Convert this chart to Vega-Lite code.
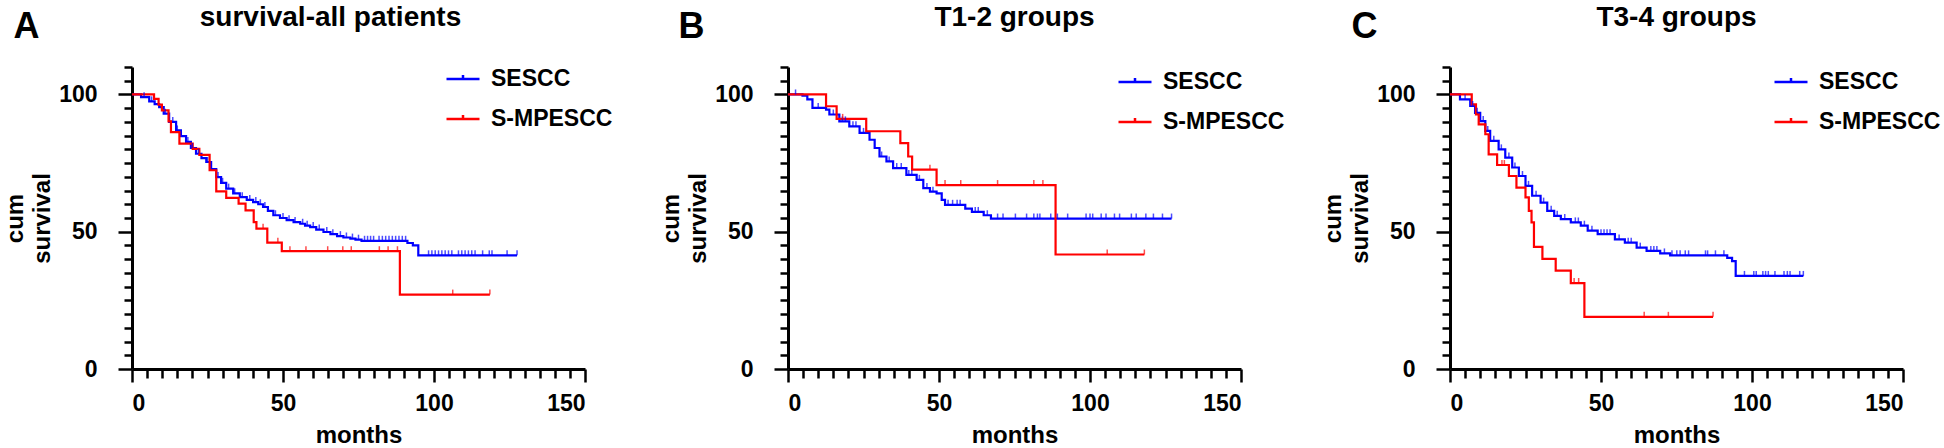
{
  "$schema": "https://vega.github.io/schema/vega-lite/v6.json",
  "padding": {"left": 3, "top": 3, "right": 0, "bottom": 0},
  "background": "white",
  "config": {
    "view": {"stroke": null},
    "font": "Liberation Sans",
    "axis": {"grid": false, "domainColor": "black", "tickColor": "black", "labelColor": "black", "titleColor": "black", "labelFont": "Liberation Sans", "titleFont": "Liberation Sans", "labelFontWeight": "bold", "titleFontWeight": "bold"},
    "legend": {"labelFont": "Liberation Sans", "labelFontWeight": "bold", "labelColor": "black"}
  },
  "datasets": {
    "curvesA": [
      {"group": "SESCC", "t": 0, "s": 100}, {"group": "SESCC", "t": 3, "s": 99}, {"group": "SESCC", "t": 5.7, "s": 97.5}, {"group": "SESCC", "t": 7.5, "s": 96.5}, {"group": "SESCC", "t": 9, "s": 95.4}, {"group": "SESCC", "t": 10.5, "s": 93}, {"group": "SESCC", "t": 12.3, "s": 90}, {"group": "SESCC", "t": 14.6, "s": 86.9}, {"group": "SESCC", "t": 16.2, "s": 84.8}, {"group": "SESCC", "t": 17.9, "s": 82.7}, {"group": "SESCC", "t": 19.5, "s": 80.5}, {"group": "SESCC", "t": 21.2, "s": 78.4}, {"group": "SESCC", "t": 23, "s": 76.8}, {"group": "SESCC", "t": 24.6, "s": 75.4}, {"group": "SESCC", "t": 26.2, "s": 72.8}, {"group": "SESCC", "t": 27.9, "s": 69.9}, {"group": "SESCC", "t": 29.5, "s": 67.8}, {"group": "SESCC", "t": 31.2, "s": 65.7}, {"group": "SESCC", "t": 33.5, "s": 64}, {"group": "SESCC", "t": 35.7, "s": 62.6}, {"group": "SESCC", "t": 38, "s": 61.6}, {"group": "SESCC", "t": 40.1, "s": 60.8}, {"group": "SESCC", "t": 41.8, "s": 60}, {"group": "SESCC", "t": 43.4, "s": 59}, {"group": "SESCC", "t": 45, "s": 57.6}, {"group": "SESCC", "t": 46.8, "s": 56}, {"group": "SESCC", "t": 49, "s": 55}, {"group": "SESCC", "t": 51.2, "s": 54.2}, {"group": "SESCC", "t": 53.5, "s": 53.5}, {"group": "SESCC", "t": 55.7, "s": 52.9}, {"group": "SESCC", "t": 57.3, "s": 52.2}, {"group": "SESCC", "t": 59, "s": 51.7}, {"group": "SESCC", "t": 61, "s": 50.8}, {"group": "SESCC", "t": 63.4, "s": 49.9}, {"group": "SESCC", "t": 65.7, "s": 49.1}, {"group": "SESCC", "t": 67.9, "s": 48.4}, {"group": "SESCC", "t": 70, "s": 47.9}, {"group": "SESCC", "t": 72.3, "s": 47.5}, {"group": "SESCC", "t": 74, "s": 47.1}, {"group": "SESCC", "t": 76, "s": 46.7}, {"group": "SESCC", "t": 91.2, "s": 45.9}, {"group": "SESCC", "t": 93, "s": 45}, {"group": "SESCC", "t": 94.8, "s": 41.4}, {"group": "SESCC", "t": 127.5, "s": 41.4},
      {"group": "S-MPESCC", "t": 0, "s": 100}, {"group": "S-MPESCC", "t": 7.3, "s": 98.4}, {"group": "S-MPESCC", "t": 8.8, "s": 96.3}, {"group": "S-MPESCC", "t": 9.9, "s": 94.2}, {"group": "S-MPESCC", "t": 12.1, "s": 90.2}, {"group": "S-MPESCC", "t": 12.9, "s": 86.3}, {"group": "S-MPESCC", "t": 15.7, "s": 82.1}, {"group": "S-MPESCC", "t": 20.1, "s": 80.2}, {"group": "S-MPESCC", "t": 22.3, "s": 78}, {"group": "S-MPESCC", "t": 25.7, "s": 72.4}, {"group": "S-MPESCC", "t": 27.9, "s": 64.7}, {"group": "S-MPESCC", "t": 31.2, "s": 62.3}, {"group": "S-MPESCC", "t": 35.3, "s": 60.2}, {"group": "S-MPESCC", "t": 37.6, "s": 57.8}, {"group": "S-MPESCC", "t": 40.3, "s": 53.5}, {"group": "S-MPESCC", "t": 41.2, "s": 51.1}, {"group": "S-MPESCC", "t": 44.8, "s": 46}, {"group": "S-MPESCC", "t": 49.6, "s": 42.9}, {"group": "S-MPESCC", "t": 88.7, "s": 27.1}, {"group": "S-MPESCC", "t": 118.5, "s": 27.1}
    ],
    "censA": [
      {"group": "SESCC", "t": 4, "s": 99}, {"group": "SESCC", "t": 6.5, "s": 97.5}, {"group": "SESCC", "t": 11, "s": 93}, {"group": "SESCC", "t": 13.5, "s": 90}, {"group": "SESCC", "t": 15, "s": 86.9}, {"group": "SESCC", "t": 18.5, "s": 82.7}, {"group": "SESCC", "t": 20, "s": 80.5}, {"group": "SESCC", "t": 22, "s": 78.4}, {"group": "SESCC", "t": 25, "s": 75.4}, {"group": "SESCC", "t": 28.5, "s": 69.9}, {"group": "SESCC", "t": 30, "s": 67.8}, {"group": "SESCC", "t": 32, "s": 65.7}, {"group": "SESCC", "t": 34, "s": 64}, {"group": "SESCC", "t": 36.5, "s": 62.6}, {"group": "SESCC", "t": 39, "s": 61.6}, {"group": "SESCC", "t": 41, "s": 60.8}, {"group": "SESCC", "t": 42.5, "s": 60}, {"group": "SESCC", "t": 44, "s": 59}, {"group": "SESCC", "t": 47.5, "s": 56}, {"group": "SESCC", "t": 50, "s": 55}, {"group": "SESCC", "t": 52, "s": 54.2}, {"group": "SESCC", "t": 54, "s": 53.5}, {"group": "SESCC", "t": 56.5, "s": 52.9}, {"group": "SESCC", "t": 58, "s": 52.2}, {"group": "SESCC", "t": 60, "s": 51.7}, {"group": "SESCC", "t": 62, "s": 50.8}, {"group": "SESCC", "t": 64.5, "s": 49.9}, {"group": "SESCC", "t": 66.5, "s": 49.1}, {"group": "SESCC", "t": 69, "s": 48.4}, {"group": "SESCC", "t": 71, "s": 47.9}, {"group": "SESCC", "t": 73, "s": 47.5}, {"group": "SESCC", "t": 75, "s": 47.1}, {"group": "SESCC", "t": 77, "s": 46.7}, {"group": "SESCC", "t": 78, "s": 46.7}, {"group": "SESCC", "t": 79, "s": 46.7}, {"group": "SESCC", "t": 80, "s": 46.7}, {"group": "SESCC", "t": 81.8, "s": 46.7}, {"group": "SESCC", "t": 82.9, "s": 46.7}, {"group": "SESCC", "t": 84, "s": 46.7}, {"group": "SESCC", "t": 85.1, "s": 46.7}, {"group": "SESCC", "t": 86.2, "s": 46.7}, {"group": "SESCC", "t": 87.3, "s": 46.7}, {"group": "SESCC", "t": 88.4, "s": 46.7}, {"group": "SESCC", "t": 89.5, "s": 46.7}, {"group": "SESCC", "t": 90.6, "s": 46.7}, {"group": "SESCC", "t": 98.2, "s": 41.4}, {"group": "SESCC", "t": 99.3, "s": 41.4}, {"group": "SESCC", "t": 100.4, "s": 41.4}, {"group": "SESCC", "t": 101.5, "s": 41.4}, {"group": "SESCC", "t": 102.6, "s": 41.4}, {"group": "SESCC", "t": 103.7, "s": 41.4}, {"group": "SESCC", "t": 104.8, "s": 41.4}, {"group": "SESCC", "t": 105.9, "s": 41.4}, {"group": "SESCC", "t": 108.1, "s": 41.4}, {"group": "SESCC", "t": 109.2, "s": 41.4}, {"group": "SESCC", "t": 110.3, "s": 41.4}, {"group": "SESCC", "t": 111.4, "s": 41.4}, {"group": "SESCC", "t": 112.5, "s": 41.4}, {"group": "SESCC", "t": 113.6, "s": 41.4}, {"group": "SESCC", "t": 116.1, "s": 41.4}, {"group": "SESCC", "t": 118.3, "s": 41.4}, {"group": "SESCC", "t": 119.2, "s": 41.4}, {"group": "SESCC", "t": 124.2, "s": 41.4}, {"group": "SESCC", "t": 127.5, "s": 41.4},
      {"group": "S-MPESCC", "t": 43.4, "s": 51.1}, {"group": "S-MPESCC", "t": 48.3, "s": 46}, {"group": "S-MPESCC", "t": 52.3, "s": 42.9}, {"group": "S-MPESCC", "t": 57.6, "s": 42.9}, {"group": "S-MPESCC", "t": 64.8, "s": 42.9}, {"group": "S-MPESCC", "t": 69.8, "s": 42.9}, {"group": "S-MPESCC", "t": 72.6, "s": 42.9}, {"group": "S-MPESCC", "t": 81.9, "s": 42.9}, {"group": "S-MPESCC", "t": 84.8, "s": 42.9}, {"group": "S-MPESCC", "t": 87.9, "s": 42.9}, {"group": "S-MPESCC", "t": 106.2, "s": 27.1}, {"group": "S-MPESCC", "t": 118.5, "s": 27.1}
    ],
    "curvesB": [
      {"group": "SESCC", "t": 0, "s": 100}, {"group": "SESCC", "t": 4.8, "s": 99.6}, {"group": "SESCC", "t": 6.4, "s": 98.2}, {"group": "SESCC", "t": 8.1, "s": 95.1}, {"group": "SESCC", "t": 12.6, "s": 94.5}, {"group": "SESCC", "t": 13.7, "s": 92.7}, {"group": "SESCC", "t": 17, "s": 90.2}, {"group": "SESCC", "t": 20.3, "s": 88.4}, {"group": "SESCC", "t": 23.7, "s": 86}, {"group": "SESCC", "t": 27, "s": 83.5}, {"group": "SESCC", "t": 28.7, "s": 80.5}, {"group": "SESCC", "t": 30.3, "s": 77.4}, {"group": "SESCC", "t": 32.6, "s": 75.6}, {"group": "SESCC", "t": 34.8, "s": 73.2}, {"group": "SESCC", "t": 39.2, "s": 70.7}, {"group": "SESCC", "t": 42.6, "s": 68.9}, {"group": "SESCC", "t": 44.8, "s": 65.9}, {"group": "SESCC", "t": 47, "s": 64.6}, {"group": "SESCC", "t": 49.2, "s": 64}, {"group": "SESCC", "t": 50.9, "s": 61.6}, {"group": "SESCC", "t": 52, "s": 59.8}, {"group": "SESCC", "t": 58.7, "s": 58.4}, {"group": "SESCC", "t": 60.9, "s": 57.2}, {"group": "SESCC", "t": 64.8, "s": 56}, {"group": "SESCC", "t": 67.2, "s": 54.8}, {"group": "SESCC", "t": 127, "s": 54.8},
      {"group": "S-MPESCC", "t": 0, "s": 100}, {"group": "S-MPESCC", "t": 12.6, "s": 95.7}, {"group": "S-MPESCC", "t": 16.1, "s": 91.1}, {"group": "S-MPESCC", "t": 25.9, "s": 86.6}, {"group": "S-MPESCC", "t": 37.2, "s": 82.3}, {"group": "S-MPESCC", "t": 39.8, "s": 77.4}, {"group": "S-MPESCC", "t": 41.1, "s": 72.6}, {"group": "S-MPESCC", "t": 49.2, "s": 67}, {"group": "S-MPESCC", "t": 88.6, "s": 41.7}, {"group": "S-MPESCC", "t": 118, "s": 41.7}
    ],
    "censB": [
      {"group": "SESCC", "t": 2.5, "s": 100}, {"group": "SESCC", "t": 10, "s": 95.1}, {"group": "SESCC", "t": 15, "s": 92.7}, {"group": "SESCC", "t": 18, "s": 90.2}, {"group": "SESCC", "t": 19, "s": 90.2}, {"group": "SESCC", "t": 21.5, "s": 88.4}, {"group": "SESCC", "t": 22.5, "s": 88.4}, {"group": "SESCC", "t": 25, "s": 86}, {"group": "SESCC", "t": 31, "s": 77.4}, {"group": "SESCC", "t": 33.5, "s": 75.6}, {"group": "SESCC", "t": 36, "s": 73.2}, {"group": "SESCC", "t": 37.5, "s": 73.2}, {"group": "SESCC", "t": 40, "s": 70.7}, {"group": "SESCC", "t": 41, "s": 70.7}, {"group": "SESCC", "t": 43.5, "s": 68.9}, {"group": "SESCC", "t": 46, "s": 65.9}, {"group": "SESCC", "t": 48, "s": 64.6}, {"group": "SESCC", "t": 53, "s": 59.8}, {"group": "SESCC", "t": 54.5, "s": 59.8}, {"group": "SESCC", "t": 56, "s": 59.8}, {"group": "SESCC", "t": 57, "s": 59.8}, {"group": "SESCC", "t": 62, "s": 57.2}, {"group": "SESCC", "t": 63, "s": 57.2}, {"group": "SESCC", "t": 66, "s": 56}, {"group": "SESCC", "t": 69.4, "s": 54.8}, {"group": "SESCC", "t": 71.2, "s": 54.8}, {"group": "SESCC", "t": 75.3, "s": 54.8}, {"group": "SESCC", "t": 79, "s": 54.8}, {"group": "SESCC", "t": 81.4, "s": 54.8}, {"group": "SESCC", "t": 82.6, "s": 54.8}, {"group": "SESCC", "t": 83.4, "s": 54.8}, {"group": "SESCC", "t": 87, "s": 54.8}, {"group": "SESCC", "t": 89.2, "s": 54.8}, {"group": "SESCC", "t": 92.6, "s": 54.8}, {"group": "SESCC", "t": 98.7, "s": 54.8}, {"group": "SESCC", "t": 100, "s": 54.8}, {"group": "SESCC", "t": 100.9, "s": 54.8}, {"group": "SESCC", "t": 103.7, "s": 54.8}, {"group": "SESCC", "t": 105.3, "s": 54.8}, {"group": "SESCC", "t": 108.1, "s": 54.8}, {"group": "SESCC", "t": 109.8, "s": 54.8}, {"group": "SESCC", "t": 113.7, "s": 54.8}, {"group": "SESCC", "t": 115.3, "s": 54.8}, {"group": "SESCC", "t": 118.5, "s": 54.8}, {"group": "SESCC", "t": 121, "s": 54.8}, {"group": "SESCC", "t": 124, "s": 54.8}, {"group": "SESCC", "t": 127, "s": 54.8},
      {"group": "S-MPESCC", "t": 18.1, "s": 91.1}, {"group": "S-MPESCC", "t": 47, "s": 72.6}, {"group": "S-MPESCC", "t": 52, "s": 67}, {"group": "S-MPESCC", "t": 57.2, "s": 67}, {"group": "S-MPESCC", "t": 69.4, "s": 67}, {"group": "S-MPESCC", "t": 81.4, "s": 67}, {"group": "S-MPESCC", "t": 84.4, "s": 67}, {"group": "S-MPESCC", "t": 105.7, "s": 41.7}, {"group": "S-MPESCC", "t": 118, "s": 41.7}
    ],
    "curvesC": [
      {"group": "SESCC", "t": 0, "s": 100}, {"group": "SESCC", "t": 3.3, "s": 98.2}, {"group": "SESCC", "t": 6.7, "s": 95.8}, {"group": "SESCC", "t": 8.3, "s": 93.3}, {"group": "SESCC", "t": 10, "s": 90.3}, {"group": "SESCC", "t": 11.7, "s": 86.7}, {"group": "SESCC", "t": 13.3, "s": 83.1}, {"group": "SESCC", "t": 16.1, "s": 80}, {"group": "SESCC", "t": 18.3, "s": 77}, {"group": "SESCC", "t": 20.6, "s": 73.4}, {"group": "SESCC", "t": 22.8, "s": 70.3}, {"group": "SESCC", "t": 25, "s": 66.7}, {"group": "SESCC", "t": 27.2, "s": 63.1}, {"group": "SESCC", "t": 30, "s": 60.6}, {"group": "SESCC", "t": 32.2, "s": 57.6}, {"group": "SESCC", "t": 34.5, "s": 55.8}, {"group": "SESCC", "t": 36.7, "s": 54.6}, {"group": "SESCC", "t": 40, "s": 53.4}, {"group": "SESCC", "t": 43.3, "s": 52.2}, {"group": "SESCC", "t": 45.6, "s": 50.4}, {"group": "SESCC", "t": 48.9, "s": 49.1}, {"group": "SESCC", "t": 54.6, "s": 47.2}, {"group": "SESCC", "t": 57.9, "s": 46}, {"group": "SESCC", "t": 61.8, "s": 44.2}, {"group": "SESCC", "t": 65.1, "s": 43}, {"group": "SESCC", "t": 69.6, "s": 42.1}, {"group": "SESCC", "t": 72.9, "s": 41.4}, {"group": "SESCC", "t": 91.8, "s": 40.5}, {"group": "SESCC", "t": 93.4, "s": 39.3}, {"group": "SESCC", "t": 94.6, "s": 33.9}, {"group": "SESCC", "t": 117, "s": 33.9},
      {"group": "S-MPESCC", "t": 0, "s": 100}, {"group": "S-MPESCC", "t": 7.2, "s": 96.4}, {"group": "S-MPESCC", "t": 8.6, "s": 92.7}, {"group": "S-MPESCC", "t": 9.5, "s": 89.1}, {"group": "S-MPESCC", "t": 11.7, "s": 85.5}, {"group": "S-MPESCC", "t": 12.8, "s": 78.2}, {"group": "S-MPESCC", "t": 15.6, "s": 74.3}, {"group": "S-MPESCC", "t": 19.5, "s": 70.3}, {"group": "S-MPESCC", "t": 22, "s": 66.1}, {"group": "S-MPESCC", "t": 25, "s": 62.5}, {"group": "S-MPESCC", "t": 26.1, "s": 57.6}, {"group": "S-MPESCC", "t": 27, "s": 53.4}, {"group": "S-MPESCC", "t": 27.8, "s": 44.5}, {"group": "S-MPESCC", "t": 30.6, "s": 40.1}, {"group": "S-MPESCC", "t": 35, "s": 35.8}, {"group": "S-MPESCC", "t": 40, "s": 31.3}, {"group": "S-MPESCC", "t": 44.5, "s": 19}, {"group": "S-MPESCC", "t": 87.1, "s": 19}
    ],
    "censC": [
      {"group": "SESCC", "t": 5, "s": 98.2}, {"group": "SESCC", "t": 7.5, "s": 95.8}, {"group": "SESCC", "t": 9, "s": 93.3}, {"group": "SESCC", "t": 11, "s": 90.3}, {"group": "SESCC", "t": 12.5, "s": 86.7}, {"group": "SESCC", "t": 14.5, "s": 83.1}, {"group": "SESCC", "t": 17, "s": 80}, {"group": "SESCC", "t": 19.5, "s": 77}, {"group": "SESCC", "t": 21.5, "s": 73.4}, {"group": "SESCC", "t": 24, "s": 70.3}, {"group": "SESCC", "t": 26, "s": 66.7}, {"group": "SESCC", "t": 28.5, "s": 63.1}, {"group": "SESCC", "t": 31, "s": 60.6}, {"group": "SESCC", "t": 33.5, "s": 57.6}, {"group": "SESCC", "t": 35.5, "s": 55.8}, {"group": "SESCC", "t": 38, "s": 54.6}, {"group": "SESCC", "t": 41.5, "s": 53.4}, {"group": "SESCC", "t": 42.5, "s": 53.4}, {"group": "SESCC", "t": 44.5, "s": 52.2}, {"group": "SESCC", "t": 47, "s": 50.4}, {"group": "SESCC", "t": 50, "s": 49.1}, {"group": "SESCC", "t": 51, "s": 49.1}, {"group": "SESCC", "t": 52, "s": 49.1}, {"group": "SESCC", "t": 53, "s": 49.1}, {"group": "SESCC", "t": 56, "s": 47.2}, {"group": "SESCC", "t": 59, "s": 46}, {"group": "SESCC", "t": 60, "s": 46}, {"group": "SESCC", "t": 63, "s": 44.2}, {"group": "SESCC", "t": 66.5, "s": 43}, {"group": "SESCC", "t": 67.5, "s": 43}, {"group": "SESCC", "t": 68.5, "s": 43}, {"group": "SESCC", "t": 71, "s": 42.1}, {"group": "SESCC", "t": 73.5, "s": 41.4}, {"group": "SESCC", "t": 75.1, "s": 41.4}, {"group": "SESCC", "t": 76.2, "s": 41.4}, {"group": "SESCC", "t": 77.9, "s": 41.4}, {"group": "SESCC", "t": 79, "s": 41.4}, {"group": "SESCC", "t": 84.6, "s": 41.4}, {"group": "SESCC", "t": 85.3, "s": 41.4}, {"group": "SESCC", "t": 87.9, "s": 41.4}, {"group": "SESCC", "t": 90.7, "s": 41.4}, {"group": "SESCC", "t": 97.5, "s": 33.9}, {"group": "SESCC", "t": 100.6, "s": 33.9}, {"group": "SESCC", "t": 101.4, "s": 33.9}, {"group": "SESCC", "t": 103.6, "s": 33.9}, {"group": "SESCC", "t": 104.5, "s": 33.9}, {"group": "SESCC", "t": 105.4, "s": 33.9}, {"group": "SESCC", "t": 107.6, "s": 33.9}, {"group": "SESCC", "t": 110.6, "s": 33.9}, {"group": "SESCC", "t": 111.7, "s": 33.9}, {"group": "SESCC", "t": 112.6, "s": 33.9}, {"group": "SESCC", "t": 115.8, "s": 33.9}, {"group": "SESCC", "t": 117, "s": 33.9},
      {"group": "S-MPESCC", "t": 17.2, "s": 74.3}, {"group": "S-MPESCC", "t": 18, "s": 74.3}, {"group": "S-MPESCC", "t": 41.1, "s": 31.3}, {"group": "S-MPESCC", "t": 42.6, "s": 31.3}, {"group": "S-MPESCC", "t": 64.3, "s": 19}, {"group": "S-MPESCC", "t": 72.3, "s": 19}, {"group": "S-MPESCC", "t": 87.1, "s": 19}
    ]
  },
  "hconcat": [
    {
      "width": 453, "height": 302,
      "resolve": {"axis": {"x": "independent", "y": "independent"}},
      "layer": [
        {
          "data": {"name": "curvesA"},
          "mark": {"type": "line", "interpolate": "step-after", "strokeWidth": 2.2},
          "encoding": {
            "x": {"field": "t", "type": "quantitative", "scale": {"domain": [0, 150], "nice": false},
              "axis": {"values": [0,5,10,15,20,25,30,35,40,45,50,55,60,65,70,75,80,85,90,95,100,105,110,115,120,125,130,135,140,145,150], "labelExpr": "datum.value % 50 === 0 ? datum.label : ''", "labelOverlap": false, "tickSize": {"condition": {"test": "datum.value % 50 === 0", "value": 13}, "value": 9}, "tickWidth": 2.5, "domainWidth": 3, "labelFontSize": 23, "labelPadding": 10, "title": "months", "titleFontSize": 24, "titlePadding": 8}},
            "y": {"field": "s", "type": "quantitative", "scale": {"domain": [0, 110], "nice": false},
              "axis": {"orient": "left", "values": [0,5,10,15,20,25,30,35,40,45,50,55,60,65,70,75,80,85,90,95,100,105,110], "labelExpr": "datum.value % 50 === 0 ? datum.label : ''", "labelOverlap": false, "tickSize": {"condition": {"test": "datum.value % 50 === 0", "value": 14}, "value": 8}, "tickWidth": 2.5, "domainWidth": 3, "labelFontSize": 23, "labelPadding": 21, "title": ["cum", "survival"], "titleFontSize": 24, "titleLineHeight": 27, "titlePadding": 4}},
            "color": {"field": "group", "type": "nominal", "scale": {"domain": ["SESCC", "S-MPESCC"], "range": ["#0000ff", "#ff0000"]},
              "legend": {"orient": "none", "legendX": 313, "legendY": -6, "title": null, "labelFontSize": 23, "symbolType": "M-1,0H1M0,0V-0.25", "symbolSize": 1089, "symbolStrokeWidth": 2.5, "labelOffset": 10, "rowPadding": 10, "padding": 0}}
          }
        },
        {
          "data": {"name": "censA"},
          "mark": {"type": "tick", "orient": "vertical", "size": 5, "thickness": 1.5, "yOffset": -2.5},
          "encoding": {
            "x": {"field": "t", "type": "quantitative", "scale": {"domain": [0, 150], "nice": false}, "axis": {"orient": "top", "labels": false, "ticks": false, "domain": false, "title": "survival-all patients", "titleFontSize": 28, "titleX": 198, "titleY": -42, "titleBaseline": "alphabetic", "titleAlign": "center"}},
            "y": {"field": "s", "type": "quantitative", "scale": {"domain": [0, 110], "nice": false}, "axis": {"orient": "right", "labels": false, "ticks": false, "domain": false, "title": "A", "titleFontSize": 36, "titleAngle": 0, "titleX": -572, "titleY": -30, "titleBaseline": "alphabetic", "titleAlign": "left"}},
            "color": {"field": "group", "type": "nominal", "scale": {"domain": ["SESCC", "S-MPESCC"], "range": ["#0000ff", "#ff0000"]}, "legend": null}
          }
        }
      ]
    },
    {
      "spacing": 209,
      "bounds": "flush",
      "hconcat": [
        {
          "width": 453, "height": 302,
          "resolve": {"axis": {"x": "independent", "y": "independent"}},
          "layer": [
            {
              "data": {"name": "curvesB"},
              "mark": {"type": "line", "interpolate": "step-after", "strokeWidth": 2.2},
              "encoding": {
                "x": {"field": "t", "type": "quantitative", "scale": {"domain": [0, 150], "nice": false},
                  "axis": {"values": [0,5,10,15,20,25,30,35,40,45,50,55,60,65,70,75,80,85,90,95,100,105,110,115,120,125,130,135,140,145,150], "labelExpr": "datum.value % 50 === 0 ? datum.label : ''", "labelOverlap": false, "tickSize": {"condition": {"test": "datum.value % 50 === 0", "value": 13}, "value": 9}, "tickWidth": 2.5, "domainWidth": 3, "labelFontSize": 23, "labelPadding": 10, "title": "months", "titleFontSize": 24, "titlePadding": 8}},
                "y": {"field": "s", "type": "quantitative", "scale": {"domain": [0, 110], "nice": false},
                  "axis": {"orient": "left", "values": [0,5,10,15,20,25,30,35,40,45,50,55,60,65,70,75,80,85,90,95,100,105,110], "labelExpr": "datum.value % 50 === 0 ? datum.label : ''", "labelOverlap": false, "tickSize": {"condition": {"test": "datum.value % 50 === 0", "value": 14}, "value": 8}, "tickWidth": 2.5, "domainWidth": 3, "labelFontSize": 23, "labelPadding": 21, "title": ["cum", "survival"], "titleFontSize": 24, "titleLineHeight": 27, "titlePadding": 4}},
                "color": {"field": "group", "type": "nominal", "scale": {"domain": ["SESCC", "S-MPESCC"], "range": ["#0000ff", "#ff0000"]},
                  "legend": {"orient": "none", "legendX": 329, "legendY": -3, "title": null, "labelFontSize": 23, "symbolType": "M-1,0H1M0,0V-0.25", "symbolSize": 1089, "symbolStrokeWidth": 2.5, "labelOffset": 10, "rowPadding": 10, "padding": 0}}
              }
            },
            {
              "data": {"name": "censB"},
              "mark": {"type": "tick", "orient": "vertical", "size": 5, "thickness": 1.5, "yOffset": -2.5},
              "encoding": {
                "x": {"field": "t", "type": "quantitative", "scale": {"domain": [0, 150], "nice": false}, "axis": {"orient": "top", "labels": false, "ticks": false, "domain": false, "title": "T1-2 groups", "titleFontSize": 28, "titleX": 226, "titleY": -42, "titleBaseline": "alphabetic", "titleAlign": "center"}},
                "y": {"field": "s", "type": "quantitative", "scale": {"domain": [0, 110], "nice": false}, "axis": {"orient": "right", "labels": false, "ticks": false, "domain": false, "title": "B", "titleFontSize": 36, "titleAngle": 0, "titleX": -563, "titleY": -30, "titleBaseline": "alphabetic", "titleAlign": "left"}},
                "color": {"field": "group", "type": "nominal", "scale": {"domain": ["SESCC", "S-MPESCC"], "range": ["#0000ff", "#ff0000"]}, "legend": null}
              }
            }
          ]
        },
        {
          "width": 453, "height": 302,
          "resolve": {"axis": {"x": "independent", "y": "independent"}},
          "layer": [
            {
              "data": {"name": "curvesC"},
              "mark": {"type": "line", "interpolate": "step-after", "strokeWidth": 2.2},
              "encoding": {
                "x": {"field": "t", "type": "quantitative", "scale": {"domain": [0, 150], "nice": false},
                  "axis": {"values": [0,5,10,15,20,25,30,35,40,45,50,55,60,65,70,75,80,85,90,95,100,105,110,115,120,125,130,135,140,145,150], "labelExpr": "datum.value % 50 === 0 ? datum.label : ''", "labelOverlap": false, "tickSize": {"condition": {"test": "datum.value % 50 === 0", "value": 13}, "value": 9}, "tickWidth": 2.5, "domainWidth": 3, "labelFontSize": 23, "labelPadding": 10, "title": "months", "titleFontSize": 24, "titlePadding": 8}},
                "y": {"field": "s", "type": "quantitative", "scale": {"domain": [0, 110], "nice": false},
                  "axis": {"orient": "left", "values": [0,5,10,15,20,25,30,35,40,45,50,55,60,65,70,75,80,85,90,95,100,105,110], "labelExpr": "datum.value % 50 === 0 ? datum.label : ''", "labelOverlap": false, "tickSize": {"condition": {"test": "datum.value % 50 === 0", "value": 14}, "value": 8}, "tickWidth": 2.5, "domainWidth": 3, "labelFontSize": 23, "labelPadding": 21, "title": ["cum", "survival"], "titleFontSize": 24, "titleLineHeight": 27, "titlePadding": 4}},
                "color": {"field": "group", "type": "nominal", "scale": {"domain": ["SESCC", "S-MPESCC"], "range": ["#0000ff", "#ff0000"]},
                  "legend": {"orient": "none", "legendX": 323, "legendY": -3, "title": null, "labelFontSize": 23, "symbolType": "M-1,0H1M0,0V-0.25", "symbolSize": 1089, "symbolStrokeWidth": 2.5, "labelOffset": 10, "rowPadding": 10, "padding": 0}}
              }
            },
            {
              "data": {"name": "censC"},
              "mark": {"type": "tick", "orient": "vertical", "size": 5, "thickness": 1.5, "yOffset": -2.5},
              "encoding": {
                "x": {"field": "t", "type": "quantitative", "scale": {"domain": [0, 150], "nice": false}, "axis": {"orient": "top", "labels": false, "ticks": false, "domain": false, "title": "T3-4 groups", "titleFontSize": 28, "titleX": 226, "titleY": -42, "titleBaseline": "alphabetic", "titleAlign": "center"}},
                "y": {"field": "s", "type": "quantitative", "scale": {"domain": [0, 110], "nice": false}, "axis": {"orient": "right", "labels": false, "ticks": false, "domain": false, "title": "C", "titleFontSize": 36, "titleAngle": 0, "titleX": -552, "titleY": -30, "titleBaseline": "alphabetic", "titleAlign": "left"}},
                "color": {"field": "group", "type": "nominal", "scale": {"domain": ["SESCC", "S-MPESCC"], "range": ["#0000ff", "#ff0000"]}, "legend": null}
              }
            }
          ]
        }
      ],
      "resolve": {"scale": {"color": "independent"}, "legend": {"color": "independent"}}
    }
  ],
  "spacing": 203,
  "bounds": "flush",
  "resolve": {"scale": {"color": "independent"}, "legend": {"color": "independent"}}
}
